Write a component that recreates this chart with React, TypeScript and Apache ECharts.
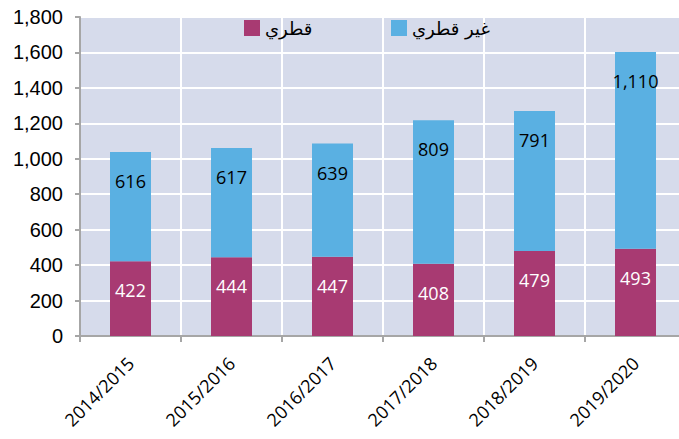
import React, { useEffect, useRef } from "react";
import * as echarts from "echarts";

const categories = ["2014/2015", "2015/2016", "2016/2017", "2017/2018", "2018/2019", "2019/2020"];
const qatari = [422, 444, 447, 408, 479, 493];
const nonQatari = [616, 617, 639, 809, 791, 1110];
const seriesNames = ["قطري", "غير قطري"];

export default function App() {
  const ref = useRef<HTMLDivElement>(null);
  useEffect(() => {
    const chart = echarts.init(ref.current!, null, { renderer: "svg" });
    const fmt = (v: number) => v.toLocaleString("en-US");
    chart.setOption({
      animation: false,
      grid: {
        left: 80,
        top: 17,
        width: 606,
        height: 319,
        show: true,
        backgroundColor: "#d6dbeb",
        borderWidth: 0,
        containLabel: false,
      },
      legend: [
        {
          left: 244,
          top: 19,
          padding: 0,
          itemWidth: 16,
          itemHeight: 16,
          icon: "rect",
          data: [seriesNames[0]],
          textStyle: { fontSize: 18, color: "#000", fontFamily: "DejaVu Sans" },
        },
        {
          left: 391,
          top: 19,
          padding: 0,
          itemWidth: 16,
          itemHeight: 16,
          icon: "rect",
          data: [seriesNames[1]],
          textStyle: { fontSize: 18, color: "#000", fontFamily: "DejaVu Sans" },
        },
      ],
      xAxis: {
        type: "category",
        data: categories,
        boundaryGap: true,
        axisLine: { show: true, lineStyle: { color: "#a6a6a6", width: 2 } },
        axisTick: { show: true, length: 6, lineStyle: { color: "#a6a6a6", width: 2 } },
        splitLine: { show: true, lineStyle: { color: "#ffffff", width: 2 } },
        axisLabel: {
          rotate: 45,
          margin: 24,
          fontSize: 18,
          color: "#000",
          fontFamily: "Open Sans",
          interval: 0,
        },
      },
      yAxis: {
        type: "value",
        min: 0,
        max: 1800,
        interval: 200,
        axisLine: { show: true, lineStyle: { color: "#a6a6a6", width: 2 } },
        axisTick: { show: true, length: 5, lineStyle: { color: "#a6a6a6", width: 2 } },
        splitLine: { show: true, lineStyle: { color: "#ffffff", width: 2 } },
        axisLabel: {
          margin: 17,
          fontSize: 20,
          color: "#000",
          fontFamily: "Liberation Sans",
          formatter: (v: number) => fmt(v),
        },
      },
      series: [
        {
          name: seriesNames[0],
          type: "bar",
          stack: "total",
          barWidth: 41,
          data: qatari,
          itemStyle: { color: "#a83a72" },
          label: {
            show: true,
            position: "insideTop",
            distance: 20,
            color: "#ffffff",
            fontSize: 18,
            fontFamily: "Open Sans",
            formatter: (p: any) => fmt(p.value),
          },
        },
        {
          name: seriesNames[1],
          type: "bar",
          stack: "total",
          barWidth: 41,
          data: nonQatari,
          itemStyle: { color: "#5ab0e2" },
          label: {
            show: true,
            position: "insideTop",
            distance: 20,
            color: "#000000",
            fontSize: 18,
            fontFamily: "Open Sans",
            formatter: (p: any) => fmt(p.value),
          },
        },
      ],
    });
    return () => chart.dispose();
  }, []);
  return (
    <div style={{ position: "fixed", left: 0, top: 0, width: 679, height: 439, overflow: "hidden", background: "#fff" }}>
      <div ref={ref} style={{ position: "absolute", left: 0, top: 0, width: 700, height: 439 }} />
    </div>
  );
}
